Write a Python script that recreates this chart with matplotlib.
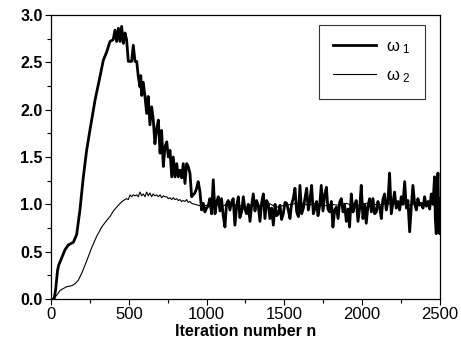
import matplotlib
matplotlib.use("Agg")
import matplotlib.pyplot as plt
from matplotlib.ticker import MultipleLocator

plt.rcParams['font.family'] = ['Liberation Sans', 'DejaVu Sans']
plt.rcParams['mathtext.fontset'] = 'custom'
plt.rcParams['mathtext.rm'] = 'Liberation Sans'
plt.rcParams['mathtext.it'] = 'Liberation Sans'

# omega_1 (thick line)
n1 = [0, 20, 30, 42, 50, 68, 90, 111, 144, 165, 186, 208, 229, 251, 283, 315,
      336, 358, 379, 400, 411, 422, 433, 444, 454, 465, 476, 486, 497, 518,
      529, 540, 551, 561, 572, 577, 583, 593, 604, 615, 625, 636, 647, 657,
      668, 679, 690, 701, 711, 722, 733, 744, 754, 765, 776, 786, 797, 808,
      818, 829, 840, 850, 861, 872, 882, 893, 904, 914, 925, 936, 946, 957,
      968, 979, 989, 1000, 1010, 1021, 1032, 1043, 1054, 1064, 1075, 1086,
      1096, 1107, 1118, 1128, 1139, 1150, 1160, 1171, 1182, 1193, 1204, 1214,
      1225, 1236, 1246, 1257, 1268, 1279, 1289, 1300, 1311, 1321, 1332, 1343,
      1354, 1365, 1375, 1386, 1397, 1407, 1418, 1429, 1440, 1450, 1461, 1472,
      1482, 1493, 1504, 1515, 1525, 1536, 1546, 1557, 1568, 1579, 1590, 1600,
      1611, 1622, 1632, 1643, 1654, 1664, 1675, 1686, 1697, 1707, 1716, 1727,
      1737, 1748, 1759, 1770, 1780, 1791, 1802, 1812, 1823, 1834, 1845, 1855,
      1866, 1877, 1887, 1898, 1909, 1919, 1930, 1941, 1951, 1962, 1973, 1984,
      1994, 2005, 2016, 2026, 2037, 2048, 2059, 2069, 2080, 2091, 2101, 2112,
      2123, 2133, 2144, 2155, 2166, 2176, 2187, 2198, 2208, 2219, 2230, 2241,
      2251, 2262, 2273, 2284, 2294, 2305, 2316, 2326, 2337, 2348, 2358, 2369,
      2380, 2391, 2401, 2412, 2423, 2434, 2444, 2455, 2465, 2470, 2476, 2482,
      2487, 2492, 2498, 2500]
w1 = [0, 0, 0.10, 0.30, 0.36, 0.43, 0.52, 0.57, 0.60, 0.68, 0.94, 1.29, 1.57,
      1.79, 2.10, 2.35, 2.52, 2.61, 2.72, 2.74, 2.84, 2.72, 2.86, 2.72, 2.88,
      2.70, 2.81, 2.74, 2.51, 2.51, 2.68, 2.51, 2.51, 2.35, 2.24, 2.36, 2.15,
      2.29, 2.14, 1.96, 2.14, 1.84, 2.03, 1.90, 1.64, 1.80, 1.89, 1.54, 1.78,
      1.40, 1.61, 1.66, 1.50, 1.57, 1.29, 1.50, 1.29, 1.43, 1.29, 1.36, 1.28,
      1.43, 1.22, 1.43, 1.40, 1.33, 1.08, 1.10, 1.12, 1.17, 1.24, 1.14, 0.94,
      1.01, 0.92, 0.96, 0.98, 1.06, 0.90, 1.26, 0.90, 1.02, 1.08, 0.93, 1.06,
      0.88, 0.76, 1.00, 1.04, 0.94, 1.02, 1.06, 0.78, 0.98, 1.08, 0.86, 0.92,
      1.08, 0.95, 0.90, 1.00, 0.82, 0.98, 1.11, 0.93, 1.04, 0.99, 0.82, 1.02,
      1.11, 0.85, 1.04, 1.00, 0.85, 0.96, 0.78, 1.00, 0.88, 0.90, 0.99, 0.84,
      0.90, 1.02, 1.01, 0.94, 0.85, 1.00, 1.06, 1.17, 0.92, 0.87, 1.20, 0.90,
      0.96, 1.06, 1.17, 0.94, 1.04, 1.20, 0.90, 0.96, 1.03, 0.88, 0.99, 1.20,
      0.93, 1.10, 1.18, 0.95, 0.92, 1.03, 0.76, 0.94, 0.97, 0.85, 1.02, 1.06,
      0.92, 1.00, 0.82, 0.95, 0.76, 1.11, 0.92, 0.99, 1.04, 0.82, 0.96, 1.20,
      0.85, 1.00, 0.80, 0.98, 1.06, 0.92, 1.06, 0.90, 0.92, 1.03, 0.97, 0.85,
      1.05, 1.11, 0.94, 1.04, 1.33, 0.90, 1.02, 1.13, 0.96, 1.03, 0.94, 1.08,
      1.00, 1.24, 0.96, 1.04, 0.71, 0.98, 1.20, 1.01, 0.94, 1.06, 0.99, 1.01,
      0.96, 1.08, 0.98, 1.03, 0.95, 1.11, 1.00, 1.29, 0.85, 0.69, 1.15, 1.33,
      0.80, 0.69, 1.06]

# omega_2 (thin line)
n2 = [0, 15, 37, 58, 79, 101, 133, 154, 176, 197, 229, 261, 293, 326, 358,
      379, 401, 422, 444, 465, 486, 497, 508, 518, 529, 540, 551, 561, 572,
      583, 593, 604, 615, 625, 636, 647, 657, 668, 679, 690, 701, 711, 722,
      733, 744, 754, 765, 776, 786, 797, 808, 818, 829, 840, 850, 861, 872,
      882, 893, 904, 925, 946, 968, 1000, 1050, 1100, 1150, 1200, 1250, 1300,
      1350, 1400, 1450, 1500, 1550, 1600, 1650, 1700, 1750, 1800, 1850, 1900,
      1950, 2000, 2050, 2100, 2150, 2200, 2250, 2300, 2350, 2400, 2450, 2500]
w2 = [0, 0, 0.04, 0.09, 0.11, 0.13, 0.14, 0.16, 0.20, 0.27, 0.40, 0.54, 0.66,
      0.76, 0.83, 0.87, 0.93, 0.97, 1.01, 1.04, 1.06, 1.05, 1.10, 1.08, 1.10,
      1.09, 1.10, 1.08, 1.13, 1.09, 1.11, 1.08, 1.13, 1.09, 1.12, 1.08, 1.11,
      1.09, 1.10, 1.08, 1.10, 1.07, 1.09, 1.08, 1.08, 1.06, 1.07, 1.05, 1.07,
      1.05, 1.06, 1.04, 1.05, 1.03, 1.04, 1.03, 1.05, 1.02, 1.03, 1.01, 1.00,
      0.99, 0.98, 0.99, 1.00, 0.98, 1.01, 0.99, 0.97, 1.00, 0.98, 1.01, 0.97,
      0.99, 1.00, 1.02, 0.99, 1.01, 0.98, 1.00, 0.99, 1.01, 0.98, 1.00, 1.02,
      0.99, 1.01, 1.00, 1.02, 0.99, 1.01, 1.00, 1.02, 1.01]

fig = plt.figure(figsize=(4.61, 3.49), dpi=100)
ax = fig.add_axes([0.1106, 0.1433, 0.8438, 0.8137])

ax.plot(n1, w1, color='black', lw=2.0, label=r'ω$_{\ 1}$')
ax.plot(n2, w2, color='black', lw=0.8, label=r'ω$_{\ 2}$')

ax.set_xlim(0, 2500)
ax.set_ylim(0, 3.0)
ax.xaxis.set_major_locator(MultipleLocator(500))
ax.xaxis.set_minor_locator(MultipleLocator(250))
ax.yaxis.set_major_locator(MultipleLocator(0.5))
ax.yaxis.set_minor_locator(MultipleLocator(0.25))
ax.tick_params(which='major', direction='out', length=4, width=0.8, top=False, right=False)
ax.tick_params(which='minor', direction='out', length=3, width=0.8, top=False, right=False)
ax.tick_params(axis='x', labelsize=12, pad=2)
ax.tick_params(axis='y', labelsize=11.5, pad=2)
ax.yaxis.set_major_formatter(matplotlib.ticker.FormatStrFormatter('%.1f'))
for lab in ax.get_yticklabels():
    lab.set_fontweight('bold')
for s in ax.spines.values():
    s.set_linewidth(0.9)

ax.set_xlabel('Iteration number n', fontsize=11.5, fontweight='bold', labelpad=1)

leg = ax.legend(loc='upper right', bbox_to_anchor=(0.961, 0.965), borderaxespad=0,
                fontsize=12, handlelength=2.6, labelspacing=0.75, fancybox=False,
                borderpad=0.85, handletextpad=0.6)
leg.get_frame().set_edgecolor('black')
leg.get_frame().set_linewidth(0.8)

fig.savefig('out.png', dpi=100)
